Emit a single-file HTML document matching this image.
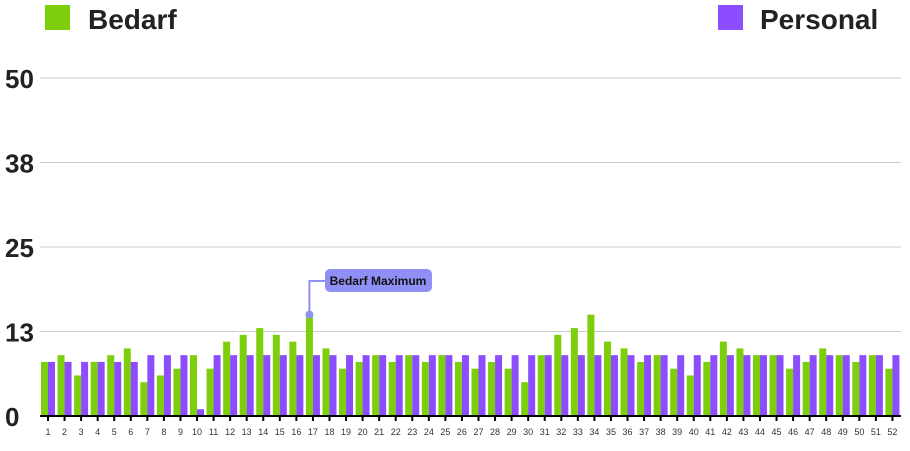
<!DOCTYPE html>
<html><head><meta charset="utf-8"><style>
body{margin:0;width:910px;height:446px;background:#fff;overflow:hidden;font-family:"Liberation Sans",Arial,sans-serif}
</style></head><body>
<svg id="chart" width="910" height="446">
<g id="legend">
<g><rect x="45" y="5" width="25" height="25" fill="#7ccf0a"/><text x="88" y="29" font-size="28" font-weight="bold" fill="#222">Bedarf</text></g>
<g><rect x="718" y="5" width="25" height="25" fill="#8c4dff"/><text x="760" y="29" font-size="28" font-weight="bold" fill="#222">Personal</text></g>
</g>
<g id="grid"></g><g id="bars"></g><g id="xaxis"></g>
</svg>
<script>
const weeks = Array.from({length:52},(_,i)=>String(i+1));
const bedarf = [8,9,6,8,9,10,5,6,7,9,7,11,12,13,12,11,15,10,7,8,9,8,9,8,9,8,7,8,7,5,9,12,13,15,11,10,8,9,7,6,8,11,10,9,9,7,8,10,9,8,9,7];
const personal = [8,8,8,8,8,8,9,9,9,1,9,9,9,9,9,9,9,9,9,9,9,9,9,9,9,9,9,9,9,9,9,9,9,9,9,9,9,9,9,9,9,9,9,9,9,9,9,9,9,9,9,9];
const yTicks = [0,12.5,25,37.5,50];
const yTickLabels = ["0","13","25","38","50"];
const NS="http://www.w3.org/2000/svg";
const x0=40, x1=901, yBase=416, yTop=78, yMax=50;
const gw=(x1-x0)/weeks.length;
const y=v=>yBase-(v/yMax)*(yBase-yTop);
function mk(t,a,p){const e=document.createElementNS(NS,t);for(const k in a)e.setAttribute(k,a[k]);p.appendChild(e);return e;}
const grid=document.getElementById('grid'),bars=document.getElementById('bars'),xa=document.getElementById('xaxis');
yTicks.forEach((v,i)=>{
  if(v>0){const l=mk('line',{x1:x0,x2:x1,y1:y(v),y2:y(v),stroke:'#cccccc','stroke-width':1},grid);
  
  }
  const t=mk('text',{x:5,y:y(v)+10,'font-size':26,'font-weight':'bold',fill:'#222'},grid);
  t.textContent=yTickLabels[i];
  
  
});
weeks.forEach((w,i)=>{
  const gx=x0+i*gw+1;
  const b=mk('rect',{x:gx,y:y(bedarf[i]),width:7,height:yBase-y(bedarf[i]),fill:'#7ccf0a'},bars);
  
  
  const p=mk('rect',{x:gx+7,y:y(personal[i]),width:7,height:yBase-y(personal[i]),fill:'#8c4dff'},bars);
  
  
  const cx=gx+7;
  const tk=mk('line',{x1:cx,x2:cx,y1:yBase,y2:yBase+5,stroke:'#000','stroke-width':2},xa);
  
  
  const t=mk('text',{x:cx,y:yBase+19,'font-size':9,'text-anchor':'middle',fill:'#333'},xa);
  t.textContent=w;
  
  
});
const ax=mk('line',{x1:x0,x2:x1,y1:yBase,y2:yBase,stroke:'#000','stroke-width':2},xa);


let mi=0;bedarf.forEach((v,i)=>{if(v>bedarf[mi])mi=i;});
const mx=x0+mi*gw+1+3.5, my=y(bedarf[mi]);
const ann=mk('g',{},bars);


mk('path',{d:`M${mx} ${my} V281 H326`,stroke:'#8f8ff5','stroke-width':2,fill:'none'},ann);
mk('circle',{cx:mx,cy:my,r:4,fill:'#8f8ff5'},ann);
mk('rect',{x:325,y:269,width:107,height:23,rx:5,fill:'#8f8ff5'},ann);
const at=mk('text',{x:378,y:285,'font-size':12,'font-weight':'bold','text-anchor':'middle',fill:'#111'},ann);
at.textContent='Bedarf Maximum';
</script>
</body></html>
